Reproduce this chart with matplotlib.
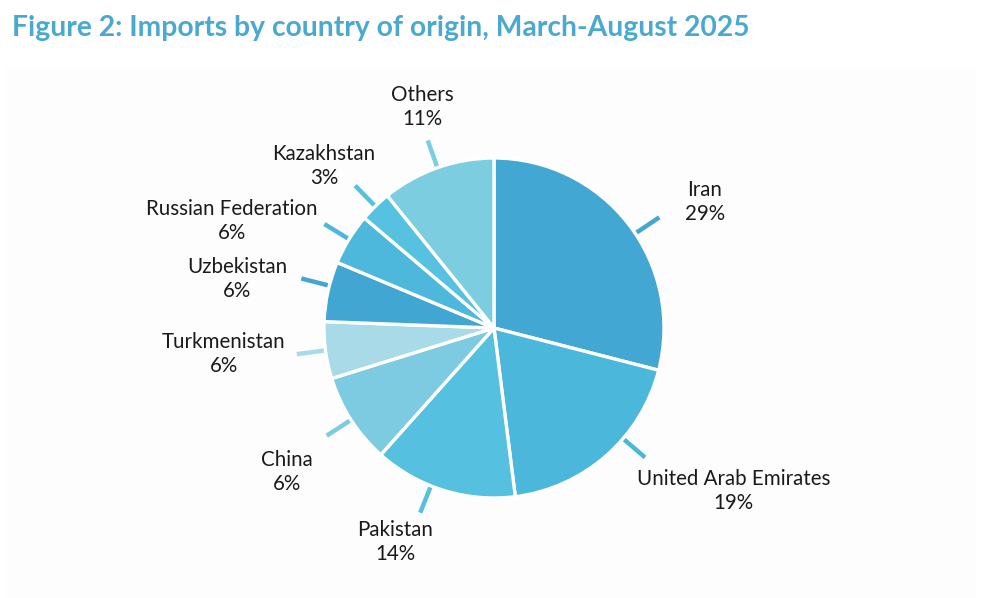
import numpy as np
import matplotlib
matplotlib.use("Agg")
import matplotlib.pyplot as plt
from matplotlib.patches import Rectangle

countries = ['Iran', 'United Arab Emirates', 'Pakistan', 'China', 'Turkmenistan',
             'Uzbekistan', 'Russian Federation', 'Kazakhstan', 'Others']
# slice sizes as drawn in the picture (percent)
shares = [29.0, 19.0, 13.6, 8.6, 5.4, 5.7, 4.9, 3.0, 10.8]
# percentages as printed on the labels
pct_labels = ['29%', '19%', '14%', '6%', '6%', '6%', '6%', '3%', '11%']

colors = ['#43a7d3', '#4ab7db', '#55c0e0', '#7ccbe0', '#a8dae8',
          '#41a6d2', '#4db8dc', '#56c1e1', '#7dcde1']

# layout: label centres in pie-radius units, tick angle tweaks (deg)
label_pos = [(1.24, 0.74), (1.41, -0.96), (-0.58, -1.26), (-1.22, -0.85),
             (-1.59, -0.15), (-1.51, 0.29), (-1.54, 0.63), (-1.00, 0.95),
             (-0.42, 1.30)]
tick_tweak = [-4, 8, -4.5, 0, 0, -2, 0, 0, 0]

W, H = 982, 598
cx, cy, R = 494, 328, 170

fig = plt.figure(figsize=(W / 100, H / 100), dpi=100)
fig.patch.set_facecolor('white')
ax = fig.add_axes([0, 0, 1, 1])

# faint panel behind the chart
ax.add_patch(Rectangle((6 / W, 0), (W - 12) / W, (H - 68) / H,
                       transform=fig.transFigure, facecolor='#fdfdfd',
                       edgecolor='none', zorder=-5))

wedges, _ = ax.pie(shares, colors=colors, startangle=90, counterclock=False,
                   radius=1.0, wedgeprops=dict(edgecolor='white', linewidth=2.4))

for i, w in enumerate(wedges):
    ang = np.deg2rad((w.theta1 + w.theta2) / 2 + tick_tweak[i])
    r0, r1 = 1.0, 1.17
    ax.plot([r0 * np.cos(ang), r1 * np.cos(ang)],
            [r0 * np.sin(ang), r1 * np.sin(ang)],
            color=colors[i], lw=3.2, solid_capstyle='butt', zorder=0.5)
    x, y = label_pos[i]
    ax.text(x, y, countries[i] + '\n' + pct_labels[i], ha='center', va='center',
            fontsize=14.8, family='Lato', color='#1a1a1a', linespacing=1.25)

ax.set_xlim(-cx / R, (W - cx) / R)
ax.set_ylim(-(H - cy) / R, cy / R)
ax.set_aspect('equal')
ax.axis('off')

fig.text(12 / W, 1 - 28 / H, 'Figure 2: Imports by country of origin, March-August 2025',
         ha='left', va='center', fontsize=20.3, fontweight='bold', family='Lato',
         color='#4aa9d0')

fig.savefig('out.png', dpi=100)
